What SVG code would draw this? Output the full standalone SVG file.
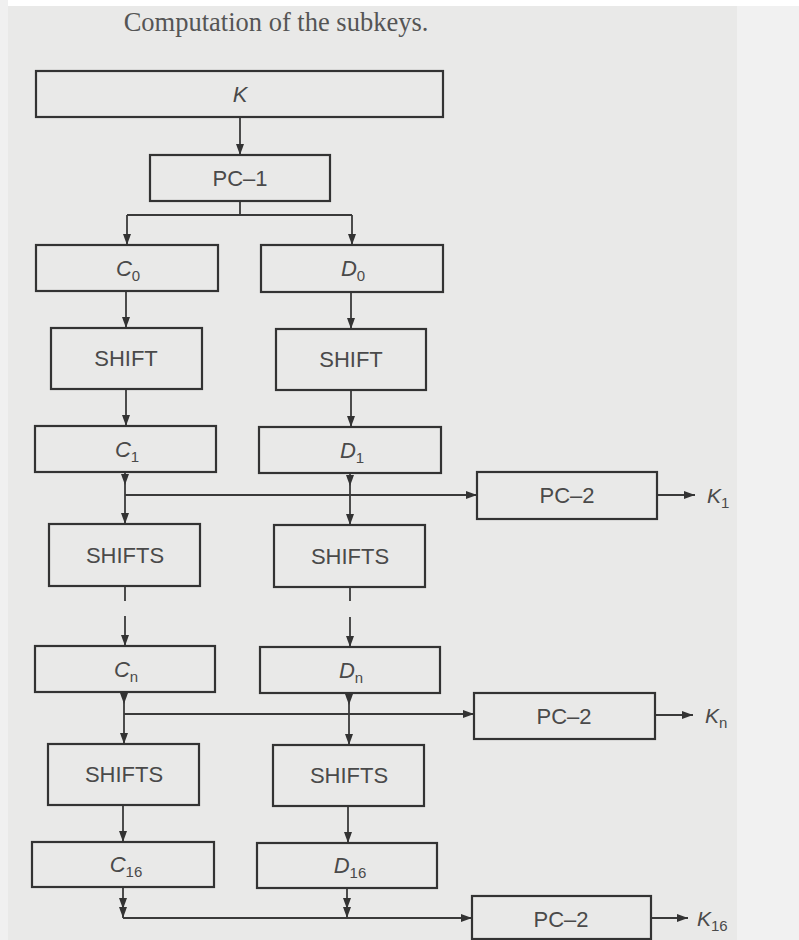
<svg xmlns="http://www.w3.org/2000/svg" width="799" height="940" viewBox="0 0 799 940">
<defs>
<marker id="ah" markerUnits="userSpaceOnUse" markerWidth="13" markerHeight="10" refX="11" refY="4" orient="auto">
<path d="M0,0 L11,4 L0,8 Z" fill="#333"/>
</marker>
<style>
.box{fill:none;stroke:#333;stroke-width:2.2}
.lbl{font-family:"Liberation Sans",Arial,sans-serif;font-size:22px;fill:#4a4a4a;text-anchor:middle}
.it{font-style:italic}
.sub{font-size:15px;font-style:normal}
.ln{fill:none;stroke:#3a3a3a;stroke-width:1.8}
.arr{marker-end:url(#ah)}
.mid{marker-mid:url(#ah)}
.klbl{font-family:"Liberation Sans",Arial,sans-serif;font-size:21px;fill:#4a4a4a;font-style:italic}
</style>
</defs>
<rect x="0" y="0" width="799" height="940" fill="#e9e9e8"/>
<rect x="737" y="0" width="62" height="940" fill="#f1f1f1"/>
<rect x="0" y="0" width="799" height="6" fill="#ffffff"/>
<rect x="0" y="0" width="8" height="940" fill="#f0f0f0"/>
<text x="276" y="31" font-family="Liberation Serif,Times New Roman,serif" font-size="26.5" fill="#555" text-anchor="middle">Computation of the subkeys.</text>

<g id="connectors">
<path class="ln arr" d="M240,117 V155"/>
<path class="ln" d="M240,201 V215 M127,215 H352"/>
<path class="ln arr" d="M127,215 V245"/>
<path class="ln arr" d="M352,215 V245"/>
<path class="ln arr" d="M126,291 V328"/>
<path class="ln arr" d="M351,292 V329"/>
<path class="ln arr" d="M126,389 V426"/>
<path class="ln arr" d="M351,390 V427"/>
<path class="ln arr mid" d="M125,472 V485 V524"/>
<path class="ln arr mid" d="M350,473 V486 V525"/>
<path class="ln arr" d="M125,495 H477"/>
<path class="ln" d="M125,587 V601 M350,588 V601" stroke-width="1.3"/>
<path class="ln arr" d="M125,616 V646" stroke-width="1.3"/>
<path class="ln arr" d="M350,617 V647" stroke-width="1.3"/>
<path class="ln arr mid" d="M124,692 V704 V744"/>
<path class="ln arr mid" d="M349,693 V705 V745"/>
<path class="ln arr" d="M124,714 H474"/>
<path class="ln arr" d="M123,805 V842"/>
<path class="ln arr" d="M348,806 V843"/>
<path class="ln arr mid" d="M123,887 V909 V918"/>
<path class="ln arr mid" d="M347,888 V909 V918"/>
<path class="ln arr" d="M123,918 H472"/>
<path class="ln arr" d="M657,495 H695"/>
<path class="ln arr" d="M655,715 H693"/>
<path class="ln arr" d="M651,918 H688"/>
</g>

<g id="K"><rect class="box" x="36" y="71" width="407" height="46"/><text class="lbl it" x="240" y="102">K</text></g>
<g id="PC1"><rect class="box" x="150" y="155" width="180" height="46"/><text class="lbl" x="240" y="186">PC–1</text></g>
<g id="C0"><rect class="box" x="36" y="245" width="182" height="46"/><text class="lbl it" x="128" y="276">C<tspan class="sub" dy="5">0</tspan></text></g>
<g id="D0"><rect class="box" x="261" y="245" width="182" height="47"/><text class="lbl it" x="353" y="276">D<tspan class="sub" dy="5">0</tspan></text></g>
<g id="SHIFT_C"><rect class="box" x="51" y="328" width="151" height="61"/><text class="lbl" x="126" y="366">SHIFT</text></g>
<g id="SHIFT_D"><rect class="box" x="276" y="329" width="150" height="61"/><text class="lbl" x="351" y="367">SHIFT</text></g>
<g id="C1"><rect class="box" x="35" y="426" width="181" height="46"/><text class="lbl it" x="127" y="457">C<tspan class="sub" dy="5">1</tspan></text></g>
<g id="D1"><rect class="box" x="259" y="427" width="182" height="46"/><text class="lbl it" x="352" y="458">D<tspan class="sub" dy="5">1</tspan></text></g>
<g id="PC2_1"><rect class="box" x="477" y="472" width="180" height="47"/><text class="lbl" x="567" y="503">PC–2</text></g>
<text class="klbl" x="707" y="503">K<tspan class="sub" dy="5">1</tspan></text>
<g id="SHIFTS_C1"><rect class="box" x="49" y="524" width="151" height="62"/><text class="lbl" x="125" y="563">SHIFTS</text></g>
<g id="SHIFTS_D1"><rect class="box" x="274" y="525" width="151" height="62"/><text class="lbl" x="350" y="564">SHIFTS</text></g>
<g id="Cn"><rect class="box" x="35" y="646" width="180" height="46"/><text class="lbl it" x="126" y="677">C<tspan class="sub" dy="5">n</tspan></text></g>
<g id="Dn"><rect class="box" x="260" y="647" width="180" height="46"/><text class="lbl it" x="351" y="678">D<tspan class="sub" dy="5">n</tspan></text></g>
<g id="PC2_n"><rect class="box" x="474" y="693" width="181" height="46"/><text class="lbl" x="564" y="724">PC–2</text></g>
<text class="klbl" x="705" y="723">K<tspan class="sub" dy="5">n</tspan></text>
<g id="SHIFTS_Cn"><rect class="box" x="48" y="744" width="151" height="61"/><text class="lbl" x="124" y="782">SHIFTS</text></g>
<g id="SHIFTS_Dn"><rect class="box" x="273" y="745" width="151" height="61"/><text class="lbl" x="349" y="783">SHIFTS</text></g>
<g id="C16"><rect class="box" x="32" y="842" width="182" height="45"/><text class="lbl it" x="126" y="872">C<tspan class="sub" dy="5">16</tspan></text></g>
<g id="D16"><rect class="box" x="257" y="843" width="180" height="45"/><text class="lbl it" x="350" y="873">D<tspan class="sub" dy="5">16</tspan></text></g>
<g id="PC2_16"><rect class="box" x="472" y="896" width="179" height="43"/><text class="lbl" x="561" y="927">PC–2</text></g>
<text class="klbl" x="697" y="926">K<tspan class="sub" dy="5">16</tspan></text>
</svg>
